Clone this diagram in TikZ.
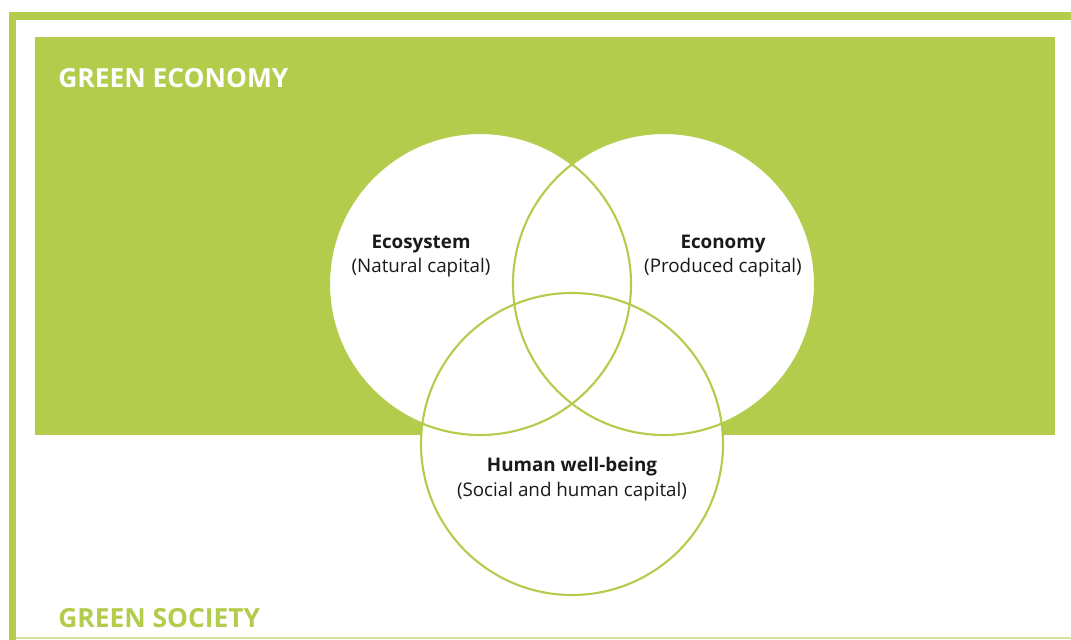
\documentclass[tikz,border=0pt]{standalone}
\usepackage{fontspec}
\setmainfont{Open Sans}
\usetikzlibrary{positioning}
\definecolor{leaf}{RGB}{179,204,76}
\definecolor{paleleaf}{RGB}{214,226,160}
\definecolor{ink}{RGB}{26,26,26}

\begin{document}
\begin{tikzpicture}
\useasboundingbox (0,0) rectangle (21.42,12.8);
\fill[white] (0,0) rectangle (21.42,12.8);

\fill[leaf] (0.18,12.4) rectangle (21.42,12.56);
\fill[leaf] (0.18,0) rectangle (0.32,12.56);
\draw[paleleaf, line width=1pt] (0.32,0.04) -- (21.42,0.04);

\fill[leaf] (0.70,4.10) rectangle (21.10,12.06);

\fill[white] (9.60,7.12) circle (3.02);
\fill[white] (13.28,7.12) circle (3.02);
\fill[white] (11.44,3.92) circle (3.02);
\draw[leaf, line width=1.2pt] (9.60,7.12) circle (3.02);
\draw[leaf, line width=1.2pt] (13.28,7.12) circle (3.02);
\draw[leaf, line width=1.2pt] (11.44,3.92) circle (3.02);

\node[anchor=base west, white, font=\fontsize{15}{18}\selectfont\bfseries, inner sep=0] (econ) at (1.16,11.04) {GREEN ECONOMY};
\node[anchor=base west, leaf, font=\fontsize{15}{18}\selectfont\bfseries, inner sep=0] (soc) at (1.16,0.24) {GREEN SOCIETY};

\node[align=center, ink, font=\fontsize{10.7}{13.8}\selectfont] (ecosys) at (8.42,7.68) {\textbf{Ecosystem}\\(Natural capital)};
\node[align=center, ink, font=\fontsize{10.7}{13.8}\selectfont] (economy) at (14.46,7.68) {\textbf{Economy}\\(Produced capital)};
\node[align=center, ink, font=\fontsize{10.7}{13.8}\selectfont] (human) at (11.44,3.22) {\textbf{Human well-being}\\(Social and human capital)};

\end{tikzpicture}
\end{document}
